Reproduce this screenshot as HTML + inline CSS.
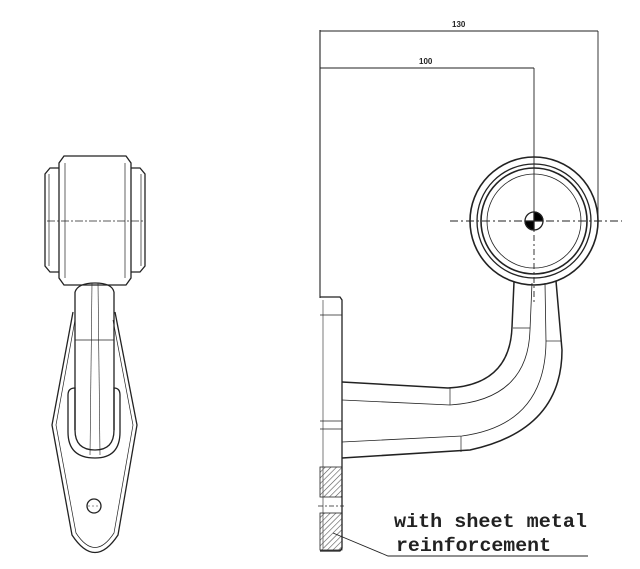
<!DOCTYPE html>
<html><head><style>body{margin:0;background:#fff}svg{display:block}</style></head><body>
<svg width="640" height="569" viewBox="0 0 640 569" xmlns="http://www.w3.org/2000/svg">
<defs><pattern id="h" width="4" height="4" patternUnits="userSpaceOnUse" patternTransform="rotate(45)"><line x1="0" y1="0" x2="0" y2="4" stroke="#555" stroke-width="1.2"/></pattern></defs>
<g fill="none" stroke="#222" stroke-width="1.3">
<!-- left view head -->
<path d="M64,156 H126 L131,163 V278 L126,285 H64 L59,278 V163 Z"/>
<path d="M59,168 H50 L45,174 V266 L50,272 H59"/>
<path d="M131,168 H140 L145,174 V266 L140,272 H131"/>
<line x1="49" y1="174" x2="49" y2="266" stroke-width="0.7"/>
<line x1="141" y1="174" x2="141" y2="266" stroke-width="0.7"/>
<line x1="65" y1="163" x2="65" y2="278" stroke-width="0.7"/>
<line x1="125" y1="163" x2="125" y2="278" stroke-width="0.7"/>
<line x1="47" y1="221" x2="143" y2="221" stroke-dasharray="8,2,2,2" stroke-width="0.8"/>
<!-- neck -->
<path d="M75,292 Q78,283 95,283 Q112,283 114,292"/>
<line x1="75" y1="292" x2="75" y2="430"/>
<line x1="114" y1="292" x2="114" y2="430"/>
<line x1="75" y1="340" x2="114" y2="340" stroke-width="0.8"/>
<line x1="92" y1="283" x2="90" y2="455" stroke-width="0.6"/>
<line x1="98" y1="283" x2="100" y2="455" stroke-width="0.6"/>
<!-- diamond -->
<path d="M73,312 L52,425 L72,535 Q95,570 118,535 L137,425 L115,312"/>
<path d="M75,320 L56,425 L76,533 Q95,562 114,533 L133,425 L113,320" stroke-width="0.7"/>
<path d="M68,395 Q68,388 75,388 V430 Q75,450 95,450 Q114,450 114,430 V388 Q120,388 120,395 V432 Q120,458 95,458 Q68,458 68,432 Z"/>
<circle cx="94" cy="506" r="7"/>
<line x1="88" y1="506" x2="100" y2="506" stroke-dasharray="2,2" stroke-width="0.6"/>
<!-- right view dims -->
<line x1="320" y1="30" x2="320" y2="298" stroke-width="1.1"/>
<line x1="320" y1="31" x2="598" y2="31" stroke-width="1"/>
<line x1="598" y1="31" x2="598" y2="215" stroke-width="0.9"/>
<line x1="320" y1="68" x2="534" y2="68" stroke-width="1"/>
<line x1="534" y1="68" x2="534" y2="221" stroke-width="0.9"/>
<!-- lamp -->
<circle cx="534" cy="221" r="64" stroke-width="1.6"/>
<circle cx="534" cy="221" r="57"/>
<circle cx="534" cy="221" r="53" stroke-width="1.6"/>
<circle cx="534" cy="221" r="47" stroke-width="0.8"/>
<line x1="450" y1="221" x2="622" y2="221" stroke-dasharray="8,3,2,3" stroke-width="0.9"/>
<line x1="534" y1="221" x2="534" y2="305" stroke-dasharray="6,3,2,3" stroke-width="0.9"/>
<circle cx="534" cy="221" r="9"/>
<path d="M534,221 V212 A9,9 0 0 1 543,221 Z M534,221 V230 A9,9 0 0 1 525,221 Z" fill="#000"/>
<!-- plate -->
<path d="M320,297 H340 L342,300 V548 L340,551 H320"/>
<line x1="323" y1="300" x2="323" y2="548" stroke-width="0.6"/>
<line x1="320" y1="315" x2="342" y2="315" stroke-width="0.8"/>
<line x1="320" y1="421" x2="342" y2="421" stroke-width="0.8"/>
<line x1="320" y1="429" x2="342" y2="429" stroke-width="0.8"/>
<rect x="320" y="467" width="22" height="30" fill="url(#h)" stroke-width="0.8"/>
<rect x="320" y="513" width="22" height="37" fill="url(#h)" stroke-width="0.8"/>
<line x1="318" y1="506" x2="344" y2="506" stroke-dasharray="5,2,2,2" stroke-width="0.8"/>
<!-- arm -->
<path d="M342,382 L448,388 Q510,385 512,327 L514,282" stroke-width="1.5"/>
<path d="M342,400 L450,405 Q528,400 530,330 L532,283" stroke-width="0.8"/>
<path d="M342,442 L462,436 Q545,425 546,342 L545,283" stroke-width="0.8"/>
<path d="M342,458 L470,450 Q562,430 562,350 L556,281" stroke-width="1.5"/>
<line x1="450" y1="388" x2="450" y2="405" stroke-width="0.7"/>
<line x1="461" y1="436" x2="461" y2="452" stroke-width="0.7"/>
<line x1="513" y1="328" x2="530" y2="328" stroke-width="0.7"/>
<line x1="546" y1="341" x2="561" y2="341" stroke-width="0.7"/>
<!-- leader -->
<polyline points="333,533 388,556 588,556" stroke-width="0.9"/>
</g>
<g font-family="Liberation Sans, sans-serif" font-size="8" font-weight="bold" fill="#222">
<text x="452" y="27">130</text><text x="419" y="64">100</text>
</g>
<g font-family="Liberation Mono, monospace" font-size="19" font-weight="bold" fill="#222">
<text x="394" y="527" textLength="193" lengthAdjust="spacingAndGlyphs">with sheet metal</text>
<text x="396" y="551" textLength="155" lengthAdjust="spacingAndGlyphs">reinforcement</text>
</g>
</svg>
</body></html>
